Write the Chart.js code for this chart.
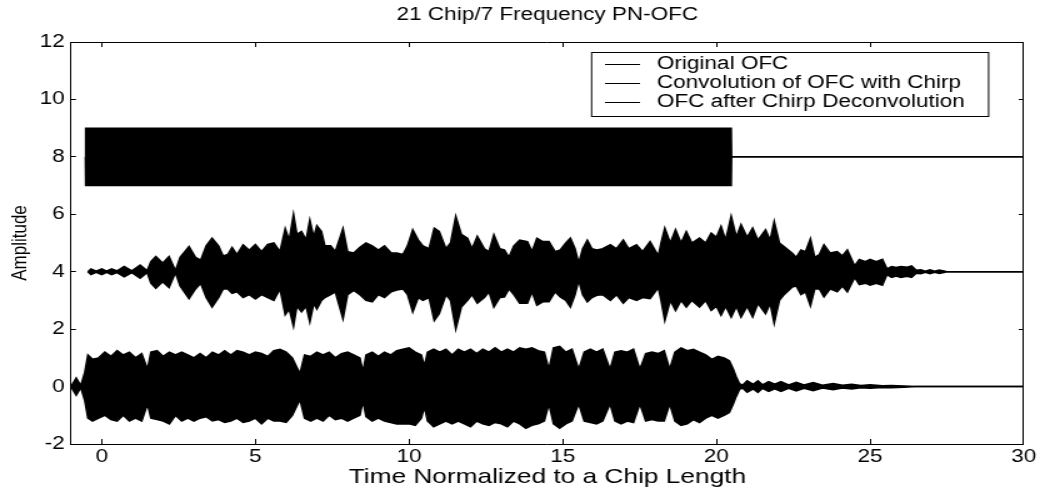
<!DOCTYPE html>
<html>
<head>
<meta charset="utf-8">
<script src="https://cdn.jsdelivr.net/npm/chart.js@4.4.0/dist/chart.umd.min.js"></script>
<style>
  html, body { margin: 0; padding: 0; background: #fff; }
  #contenedor { width: 1045px; height: 489px; }
</style>
</head>
<body>
<div id="contenedor"></div>
<script>
// Envolventes (eje x en longitudes de chip)
// cada serie: posiciones x, desviación hacia arriba y hacia abajo respecto a su línea base

const xTicks = [0, 5, 10, 15, 20, 25, 30];
const yTicks = [-2, 0, 2, 4, 6, 8, 10, 12];

const seriesNames = ['Original OFC', 'Convolution of OFC with Chirp', 'OFC after Chirp Deconvolution'];
const baselines = [8, 4, 0];

// Original OFC: bloque entre 7 y 9, luego línea plana en 8
const origX  = [-0.53, -0.52, 20.48, 20.49, 30];
const origUp = [0, 1, 1, 0, 0];
const origDn = [0, 1, 1, 0, 0];

// Convolución con chirp (centrada en 4)
const convX = [-0.45,-0.35,-0.18,0,0.16,0.32,0.5,0.73,0.98,1.25,
  1.48,1.6,1.76,1.98,2.19,2.4,2.55,2.84,3.05,3.22,
  3.4,3.59,3.8,3.95,4.1,4.24,4.4,4.6,4.8,5.0,
  5.2,5.4,5.6,5.8,5.97,6.1,6.24,6.35,6.5,6.65,
  6.77,6.9,7.0,7.15,7.26,7.45,7.6,7.85,8.0,8.2,
  8.4,8.6,8.8,9.0,9.2,9.42,9.6,9.8,9.95,10.12,
  10.3,10.45,10.65,10.82,10.98,11.2,11.35,11.52,11.7,11.9,
  12.05,12.22,12.45,12.6,12.76,12.95,13.1,13.25,13.41,13.6,
  13.85,14.0,14.16,14.35,14.55,14.75,14.92,15.1,15.25,15.4,
  15.52,15.65,15.8,15.95,16.11,16.3,16.55,16.75,16.97,17.15,
  17.4,17.6,17.84,18.11,18.2,18.32,18.5,18.67,18.85,19.02,
  19.2,19.45,19.65,19.83,20.0,20.15,20.3,20.48,20.65,20.8,
  21.0,21.18,21.35,21.6,21.75,21.88,22.05,22.2,22.47,22.6,
  22.75,22.9,23.06,23.2,23.35,23.5,23.7,23.93,24.1,24.26,
  24.5,24.65,24.85,25.0,25.2,25.4,25.55,25.7,25.85,26.0,
  26.2,26.35,26.5,26.65,26.8,26.95,27.1,27.25,27.4,27.5,
  30];
const convUp = [0,.1,.02,.1,.02,.1,.03,.18,.03,.23,
  .03,.35,.53,.3,.53,.03,.5,.88,.5,.4,
  .9,1.17,.9,.55,.6,.85,.6,.94,.75,.95,
  .7,.95,1.0,.7,1.5,1.1,2.0,1.3,1.4,1.1,
  1.8,1.2,1.6,1.4,.9,.9,.7,1.5,.7,.65,
  .85,1.0,.9,.75,.9,.65,.65,.6,.9,1.46,
  1.1,.9,.8,1.52,1.4,.8,1.0,1.93,1.3,1.17,
  .8,1.23,.8,.7,1.29,.8,.76,.5,.9,1.1,
  1.05,.7,1.17,1.05,1.05,.7,.76,1.0,1.17,.8,
  .3,.8,1.1,.8,.76,.8,.94,.8,1.1,.8,
  .94,.7,1.05,.55,1.0,1.52,1.0,1.46,1.0,1.4,
  1.0,1.17,1.0,1.35,1.2,1.58,1.1,1.93,1.2,1.64,
  1.2,1.52,1.1,1.46,1.1,1.75,1.0,.88,.64,.5,
  .76,.7,1.15,.5,.6,.94,.65,.7,.55,.76,
  .2,.43,.35,.43,.35,.43,.1,.18,.15,.18,
  .16,.2,.05,.07,.02,.07,.02,.06,.03,0,
  0];
const convDn = [0,.1,.02,.1,.02,.1,.03,.18,.03,.23,
  .03,.4,.58,.35,.55,.03,.5,.94,.6,.4,
  .9,1.23,.9,.6,.6,.75,.7,.9,.8,.95,
  .8,.9,1.0,.6,1.5,1.3,1.9,1.2,1.4,1.2,
  1.75,1.1,1.3,1.0,.9,.8,.7,1.64,.8,.65,
  .8,1.0,1.05,.8,.9,.7,.64,.6,.8,1.4,
  .9,1.0,.9,1.7,1.46,.8,1.0,2.0,1.23,1.0,
  .8,1.1,.9,.7,1.23,.9,.88,.6,.8,1.1,
  1.1,.7,1.17,1.05,1.05,.7,.88,1.0,1.23,.8,
  .3,.8,1.05,.9,.82,.8,1.0,.8,1.1,.9,
  1.0,.9,.94,.55,1.0,1.7,1.0,1.35,1.0,1.23,
  1.0,1.23,1.0,1.35,1.2,1.52,1.2,1.58,1.2,1.58,
  1.2,1.58,1.1,1.46,1.1,1.8,1.0,.8,.53,.5,
  .8,.7,1.19,.6,.6,.88,.6,.7,.5,.7,
  .2,.45,.4,.47,.4,.47,.1,.2,.15,.2,
  .16,.2,.05,.07,.02,.07,.02,.06,.03,0,
  0];

// OFC tras la deconvolución (centrada en 0)
const decX = [-1.0,-0.83,-0.68,-0.55,-0.45,-0.3,-0.1,0.1,0.3,0.5,
  0.7,0.9,1.1,1.3,1.49,1.6,1.8,2.0,2.2,2.4,
  2.6,2.8,3.0,3.2,3.4,3.6,3.8,4.0,4.2,4.4,
  4.6,4.8,5.0,5.2,5.4,5.6,5.8,6.0,6.2,6.45,
  6.6,6.8,7.0,7.2,7.4,7.6,7.8,8.0,8.2,8.4,
  8.5,8.6,8.8,9.0,9.2,9.4,9.6,9.8,10.0,10.2,
  10.4,10.5,10.6,10.8,11.0,11.2,11.4,11.6,11.8,12.0,
  12.2,12.4,12.6,12.8,13.0,13.2,13.4,13.6,13.8,14.0,
  14.2,14.4,14.55,14.7,14.9,15.1,15.3,15.52,15.7,15.9,
  16.1,16.3,16.54,16.7,16.9,17.1,17.3,17.51,17.7,17.9,
  18.1,18.3,18.48,18.65,18.85,19.05,19.25,19.45,19.65,19.85,
  20.05,20.25,20.42,20.55,20.64,20.75,20.85,21.0,21.2,21.35,
  21.5,21.7,21.9,22.1,22.35,22.6,22.85,23.15,23.45,23.8,
  24.1,24.4,24.7,25.0,25.4,25.7,26.1,26.5,30];
const decUp = [0,.3,.03,.5,1.1,.95,1.0,1.2,1.05,1.25,
  1.1,1.2,1.0,1.15,.6,1.2,1.25,1.05,1.2,1.1,
  1.2,1.1,1.0,1.15,1.0,1.2,1.1,1.25,1.1,1.25,
  1.2,1.1,1.2,1.15,1.05,1.25,1.3,1.2,1.0,.45,
  1.1,1.05,1.2,1.1,1.2,1.0,1.15,1.2,1.1,1.0,
  .5,1.1,1.2,1.05,1.2,1.1,1.25,1.3,1.35,1.2,
  1.1,.7,1.2,1.3,1.2,1.3,1.1,1.3,1.2,1.3,
  1.15,1.3,1.2,1.35,1.2,1.3,1.2,1.35,1.3,1.35,
  1.25,1.2,.6,1.35,1.4,1.2,1.3,.6,1.2,1.3,
  1.2,1.3,.6,1.2,1.25,1.2,1.3,.6,1.15,1.2,
  1.15,1.25,.6,1.2,1.35,1.25,1.3,1.2,1.1,.95,
  1.05,1.0,.9,.6,.35,.1,.05,.2,.08,.2,
  .06,.17,.08,.17,.06,.15,.06,.14,.05,.11,
  .05,.08,.04,.06,.03,.04,.02,0,0];
const decDn = [0,.3,.03,.5,1.1,1.2,1.1,1.0,1.15,1.2,
  1.0,1.2,1.1,1.2,.6,1.1,1.15,1.2,1.3,1.0,
  1.2,1.1,1.2,1.1,1.05,1.2,1.15,1.25,1.2,1.1,
  1.25,1.2,1.1,1.3,1.1,1.2,1.2,1.25,1.0,.45,
  1.1,1.2,1.1,1.2,1.0,1.15,1.1,1.2,1.1,1.0,
  .5,1.05,1.2,1.1,1.2,1.25,1.3,1.3,1.3,1.35,
  1.1,.7,1.2,1.4,1.3,1.2,1.3,1.2,1.3,1.4,
  1.2,1.3,1.35,1.25,1.3,1.4,1.2,1.3,1.45,1.35,
  1.3,1.2,.6,1.3,1.45,1.3,1.2,.6,1.2,1.25,
  1.3,1.2,.6,1.2,1.3,1.2,1.25,.6,1.2,1.15,
  1.2,1.2,.6,1.2,1.35,1.3,1.15,1.25,1.1,1.0,
  1.1,1.0,.9,.6,.35,.1,.05,.2,.08,.2,
  .06,.17,.08,.17,.06,.15,.06,.14,.05,.11,
  .05,.08,.04,.06,.03,.04,.02,0,0];

const FUENTE = "'Liberation Sans', Arial, Helvetica, sans-serif";

// La figura original está ensanchada en horizontal: el lienzo se dibuja más estrecho
// y el CSS lo estira hasta 1045 px
const ESTIRADO = 1.25;
const ANCHO = 1045, ALTO = 489;
const hx = v => v / ESTIRADO;   // px horizontales de la figura -> px del lienzo

const lienzo = document.createElement('canvas');
lienzo.id = 'graficoOFC';
lienzo.width = Math.round(ANCHO / ESTIRADO);
lienzo.height = ALTO;
lienzo.style.width = ANCHO + 'px';
lienzo.style.height = ALTO + 'px';
lienzo.style.display = 'block';
document.getElementById('contenedor').appendChild(lienzo);

// Construir borde superior e inferior de una envolvente
function envolvente(xs, base, up, dn) {
    return {
        arriba: xs.map((x, i) => ({ x: x, y: base + up[i] })),
        abajo: xs.map((x, i) => ({ x: x, y: base - dn[i] }))
    };
}

const env = [
    envolvente(origX, baselines[0], origUp, origDn),
    envolvente(convX, baselines[1], convUp, convDn),
    envolvente(decX, baselines[2], decUp, decDn)
];

const datasets = [];
env.forEach(function(e, i) {
    datasets.push({
        label: seriesNames[i],
        data: e.arriba,
        borderColor: '#000',
        backgroundColor: '#000',
        borderWidth: 1.5,
        pointRadius: 0,
        tension: 0,
        fill: '+1'
    });
    datasets.push({
        label: '',
        data: e.abajo,
        borderColor: '#000',
        backgroundColor: '#000',
        borderWidth: 1.5,
        pointRadius: 0,
        tension: 0,
        fill: false
    });
});

// Título centrado sobre el área del gráfico
const tituloPlugin = {
    id: 'tituloOFC',
    afterDraw(chart) {
        const ctx = chart.ctx;
        const area = chart.chartArea;
        ctx.save();
        ctx.fillStyle = '#000';
        ctx.font = '18px ' + FUENTE;
        ctx.textAlign = 'center';
        ctx.textBaseline = 'middle';
        ctx.fillText('21 Chip/7 Frequency PN-OFC', (area.left + area.right) / 2, 15);
        ctx.restore();
    }
};

// Leyenda con marco, arriba a la derecha dentro de los ejes
const leyendaPlugin = {
    id: 'leyendaOFC',
    afterDraw(chart) {
        const ctx = chart.ctx;
        const x0 = hx(591) + 0.5, y0 = 52.5, w = hx(397), h = 64;
        ctx.save();
        ctx.fillStyle = '#fff';
        ctx.fillRect(x0, y0, w, h);
        ctx.strokeStyle = '#000';
        ctx.lineWidth = 1;
        ctx.strokeRect(x0, y0, w, h);
        ctx.font = '18px ' + FUENTE;
        ctx.textBaseline = 'middle';
        ctx.textAlign = 'left';
        ctx.fillStyle = '#000';
        const filas = [64, 83, 102];
        chart.data.datasets.filter(d => d.label).forEach(function(d, i) {
            ctx.beginPath();
            ctx.moveTo(hx(605), filas[i] + 0.5);
            ctx.lineTo(hx(640), filas[i] + 0.5);
            ctx.stroke();
            ctx.fillText(d.label, hx(657), filas[i]);
        });
        ctx.restore();
    }
};

function fijarTicks(valores) {
    return function(scale) {
        scale.ticks = valores.map(v => ({ value: v }));
    };
}

function eje(largoTick) {
    return {
        type: 'linear',
        border: { display: true, color: '#000', width: 1 },
        grid: { display: true, drawOnChartArea: false, drawTicks: true, tickLength: largoTick, color: '#000' }
    };
}

new Chart(lienzo, {
    type: 'line',
    data: { datasets: datasets },
    options: {
        responsive: false,
        animation: false,
        devicePixelRatio: 1,
        layout: { padding: { top: 42, right: hx(16), bottom: 0, left: 0 } },
        plugins: {
            legend: { display: false },
            title: { display: false },
            tooltip: { enabled: false }
        },
        scales: {
            x: Object.assign(eje(-5), {
                position: 'bottom',
                min: -1, max: 30,
                afterBuildTicks: fijarTicks(xTicks),
                afterFit: function(s) { s.height = 45; },
                ticks: { color: '#000', padding: 7, maxRotation: 0, font: { family: FUENTE, size: 18 } },
                title: {
                    display: true, text: 'Time Normalized to a Chip Length', color: '#000',
                    font: { family: FUENTE, size: 21, lineHeight: 1 }, padding: { top: 0, bottom: 1 }
                }
            }),
            y: Object.assign(eje(-4), {
                position: 'left',
                min: -2, max: 12,
                afterBuildTicks: fijarTicks(yTicks),
                afterFit: function(s) { s.width = hx(71); },
                ticks: { color: '#000', padding: 9, font: { family: FUENTE, size: 18 } },
                title: {
                    display: true, text: 'Amplitude', color: '#000',
                    font: { family: FUENTE, size: 17, lineHeight: 1 }, padding: { top: 7.5, bottom: 0 }
                }
            }),
            xArriba: Object.assign(eje(-5), {
                position: 'top', axis: 'x',
                min: -1, max: 30,
                afterBuildTicks: fijarTicks(xTicks),
                afterFit: function(s) { s.height = 0; },
                ticks: { display: false }
            }),
            yDerecha: Object.assign(eje(-4), {
                position: 'right', axis: 'y',
                min: -2, max: 12,
                afterBuildTicks: fijarTicks(yTicks),
                afterFit: function(s) { s.width = 0; },
                ticks: { display: false }
            })
        }
    },
    plugins: [tituloPlugin, leyendaPlugin]
});
</script>
</body>
</html>
